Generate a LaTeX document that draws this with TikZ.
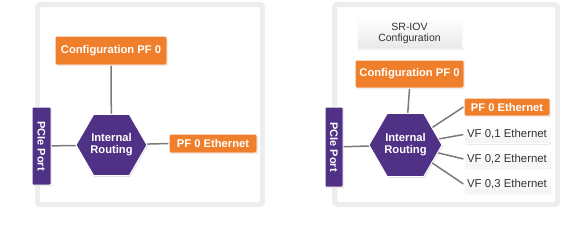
\documentclass[tikz,border=0pt]{standalone}
\usepackage{fontspec}
\setmainfont{Liberation Sans}
\usetikzlibrary{shapes.geometric,shadows}
\definecolor{iorange}{HTML}{F07F2C}
\definecolor{ipurple}{HTML}{4F3285}
\definecolor{iline}{HTML}{7A7A7A}
\definecolor{iframe}{HTML}{EDEDED}
\definecolor{itext}{HTML}{333333}
\pgfdeclarelayer{bg}
\pgfdeclarelayer{lines}
\pgfsetlayers{bg,lines,main}
\tikzset{
  shad/.style={drop shadow={opacity=0.25,shadow xshift=0.8pt,shadow yshift=-1.2pt}},
  orangebox/.style={shad,fill=iorange,draw=white,line width=1pt,rounded corners=1.5pt,
    text=white,font=\fontsize{11.2}{12}\selectfont\bfseries,inner sep=0pt},
  whitebox/.style={shad,top color=white,bottom color=gray!10,draw=white,line width=1pt,rounded corners=1.5pt,
    text=itext,font=\fontsize{11.4}{12}\selectfont,inner sep=0pt,minimum width=86pt,minimum height=18pt},
  hexnode/.style={shad,regular polygon,regular polygon sides=6,fill=ipurple,draw=white,line width=1pt,
    inner sep=0pt,text=white,font=\fontsize{11.2}{12}\selectfont\bfseries,align=center},
  portnode/.style={shad,fill=ipurple,draw=white,line width=1pt,rounded corners=1pt,rotate=-90,
    text=white,font=\fontsize{11}{12}\selectfont\bfseries,inner sep=0pt},
  framebox/.style={draw=iframe,line width=5pt,fill=white,rounded corners=3pt},
  link/.style={draw=iline,line width=1.5pt}
}
\begin{document}
\begin{tikzpicture}[x=1pt,y=-1pt]
\useasboundingbox (0,0) rectangle (581,225);
% frames
\begin{pgfonlayer}{bg}
\draw[framebox] (37.5,4.5) rectangle (262.5,204.5);
\draw[framebox] (334.5,4.5) rectangle (557.5,204.5);
\end{pgfonlayer}
% left panel
\node[orangebox,minimum width=112pt,minimum height=29pt] (cfgL) at (111,50.5) {Configuration PF 0};
\node[hexnode,minimum size=71pt] (hexL) at (111.5,145) {Internal\\Routing};
\node[portnode,minimum width=78pt,minimum height=19pt] (pcieL) at (41.5,146) {PCIe Port};
\node[orangebox,minimum width=88pt,minimum height=19pt] (pfL) at (213,143.5) {PF 0 Ethernet};
% right panel
\node[top color=white,bottom color=gray!18,draw=white,line width=1pt,rounded corners=1.5pt,shad,
  minimum width=105pt,minimum height=32pt,inner sep=0pt,align=center,text=itext,
  font=\fontsize{10.5}{11}\selectfont] (sriov) at (409.5,33) {SR-IOV\\Configuration};
\node[orangebox,minimum width=109pt,minimum height=28pt] (cfgR) at (409.5,74) {Configuration PF 0};
\node[hexnode,minimum size=73pt] (hexR) at (405.5,145) {Internal\\Routing};
\node[portnode,minimum width=80pt,minimum height=18pt] (pcieR) at (334,147) {PCIe Port};
\node[orangebox,minimum width=86pt,minimum height=18pt] (pf0R) at (507,107) {PF 0 Ethernet};
\node[whitebox] (vf1) at (507,134.5) {VF 0,1 Ethernet};
\node[whitebox] (vf2) at (507,159) {VF 0,2 Ethernet};
\node[whitebox] (vf3) at (507,184) {VF 0,3 Ethernet};
% connectors
\begin{pgfonlayer}{lines}
\draw[link] (cfgL.south) -- (hexL.center);
\draw[link] (pcieL.center) -- (hexL.center);
\draw[link] (hexL.center) -- (pfL.west);
\draw[link] (cfgR.south) -- (hexR.center);
\draw[link] (pcieR.center) -- (hexR.center);
\draw[link] (hexR.center) -- (pf0R.west);
\draw[link] (hexR.center) -- (vf1.west);
\draw[link] (hexR.center) -- (vf2.west);
\draw[link] (hexR.center) -- (vf3.west);
\end{pgfonlayer}
\end{tikzpicture}
\end{document}
